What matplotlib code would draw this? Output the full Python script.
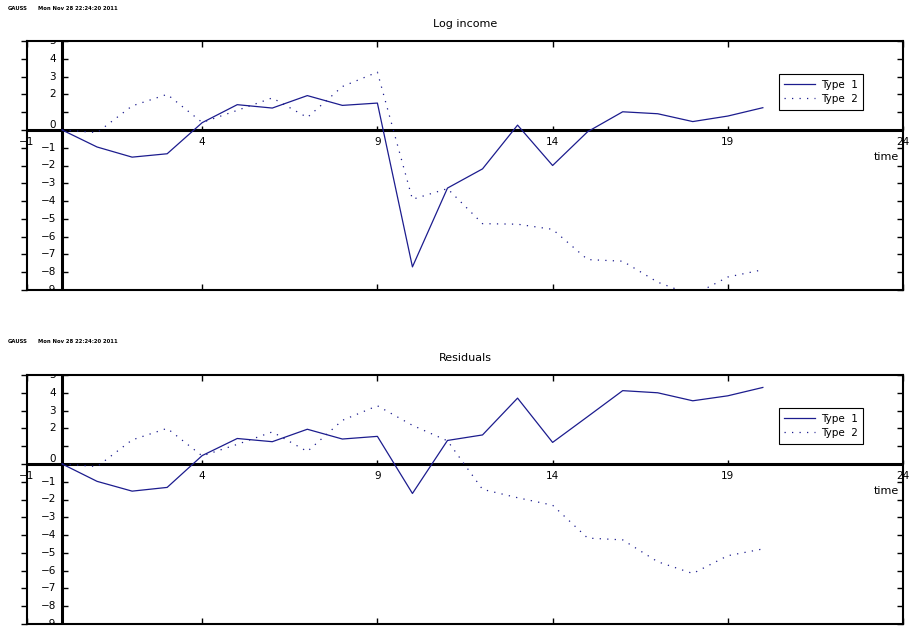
import matplotlib
matplotlib.use("Agg")
import matplotlib.pyplot as plt
from matplotlib.lines import TICKLEFT, TICKRIGHT, TICKUP
import matplotlib.transforms as mtransforms

# ---------------- data ----------------
t = list(range(0, 21))
log_type1 = [0, -0.96, -1.53, -1.34, 0.41, 1.42, 1.23, 1.93, 1.38, 1.51, -7.7,
             -3.27, -2.19, 0.27, -2.0, -0.1, 1.02, 0.91, 0.47, 0.78, 1.25]
log_type2 = [0, -0.15, 1.35, 2.0, 0.42, 1.1, 1.8, 0.7, 2.44, 3.25, -3.9,
             -3.3, -5.27, -5.3, -5.59, -7.29, -7.38, -8.56, -9.3, -8.27, -7.86]
res_type1 = [0, -0.98, -1.53, -1.32, 0.47, 1.43, 1.25, 1.95, 1.4, 1.55, -1.66,
             1.32, 1.63, 3.7, 1.21, 2.66, 4.12, 4.0, 3.55, 3.83, 4.3]
res_type2 = [0, -0.15, 1.35, 2.0, 0.45, 1.1, 1.8, 0.7, 2.45, 3.27, 2.17,
             1.3, -1.43, -1.9, -2.32, -4.17, -4.27, -5.5, -6.16, -5.16, -4.78]

xticks = [-1, 4, 9, 14, 19, 24]
xtick_labels = ["\u22121", "4", "9", "14", "19", "24"]
yticks = [5, 4, 3, 2, 1, 0, -1, -2, -3, -4, -5, -6, -7, -8, -9]
ytick_labels = ["5", "4", "3", "2", "", "0", "\u22121", "\u22122", "\u22123", "\u22124",
                "\u22125", "\u22126", "\u22127", "\u22128", "\u22129"]
series_labels = ["Type  1", "Type  2"]
titles = ["Log income", "Residuals"]
header_left = "GAUSS"
header_right = "Mon Nov 28 22:24:20 2011"
xlabel = "time"

# ---------------- layout ----------------
W, H = 910, 628
fig = plt.figure(figsize=(W / 100, H / 100), dpi=100)
plt.rcParams['font.family'] = ['DejaVu Sans']

line_color = "#1c1c8e"
panels = [
    dict(top=41, bottom=290, title_y=24, head_y=8, y1=log_type1, y2=log_type2, title=titles[0]),
    dict(top=375, bottom=624, title_y=358, head_y=341, y1=res_type1, y2=res_type2, title=titles[1]),
]
left_px, right_px = 27, 903
fs = 7.5

for p in panels:
    ax = fig.add_axes([left_px / W, 1 - p['bottom'] / H,
                       (right_px - left_px) / W, (p['bottom'] - p['top']) / H])
    ax.set_xlim(-1, 24)
    ax.set_ylim(-9, 5)
    for s in ax.spines.values():
        s.set_linewidth(1.5)
        s.set_color("black")

    ax.set_xticks(xticks)
    ax.set_yticks(yticks)
    ax.tick_params(axis='x', direction='in', top=True, bottom=True, length=4, width=1,
                   labelbottom=False, labeltop=False)
    ax.tick_params(axis='y', direction='out', left=True, right=False, length=4, width=1,
                   labelleft=False)

    # right-frame inward ticks and ticks on zero axes
    ax.plot([24] * len(yticks), yticks, ls='none', marker=TICKLEFT, ms=4, mew=1,
            color='black', clip_on=False)
    ax.plot([0] * len(yticks), yticks, ls='none', marker=TICKRIGHT, ms=4, mew=1,
            color='black', clip_on=True)
    ax.plot(xticks[1:], [0] * (len(xticks) - 1), ls='none', marker=TICKUP, ms=3, mew=1,
            color='black', clip_on=False)

    ax.axhline(0, color='black', lw=2.2, zorder=3)
    ax.axvline(0, color='black', lw=2.2, zorder=3)

    l1, = ax.plot(t, p['y1'], color=line_color, lw=0.9, label=series_labels[0], zorder=4)
    l2, = ax.plot(t, p['y2'], color=line_color, lw=0.9, ls=(0, (1, 5)),
                  label=series_labels[1], zorder=4)

    # x tick labels just below zero line
    off_x = mtransforms.offset_copy(ax.transData, fig=fig, x=0, y=-5, units='points')
    for xv, lab in zip(xticks, xtick_labels):
        ax.text(xv, 0, lab, transform=off_x, ha='center', va='top', fontsize=fs,
                clip_on=False, zorder=1)
    # y tick labels left of x=0 line
    off_y = mtransforms.offset_copy(ax.transData, fig=fig, x=-4.5, y=0, units='points')
    for yv, lab in zip(yticks, ytick_labels):
        ax.text(0, yv, lab, transform=off_y, ha='right',
                va='bottom' if yv == 0 else 'center', fontsize=fs, clip_on=True)
    # axis label
    off_t = mtransforms.offset_copy(ax.transData, fig=fig, x=-3, y=-16, units='points')
    ax.text(24, 0, xlabel, transform=off_t, ha='right', va='top', fontsize=fs + 0.5)

    leg = ax.legend(handles=[l1, l2], loc='upper left', bbox_to_anchor=(0.858, 0.867),
                    borderaxespad=0, fancybox=False, framealpha=1, edgecolor='black',
                    fontsize=fs, handlelength=2.9, handletextpad=0.6, labelspacing=0.4,
                    borderpad=0.55)
    leg.get_frame().set_linewidth(0.8)

    fig.text(465 / W, 1 - p['title_y'] / H, p['title'], ha='center', va='center', fontsize=8)
    fig.text(8 / W, 1 - p['head_y'] / H, header_left, ha='left', va='center', fontsize=3.8,
             weight='bold')
    fig.text(38 / W, 1 - p['head_y'] / H, header_right, ha='left', va='center', fontsize=3.8,
             weight='bold')

fig.savefig("out.png", dpi=100)
